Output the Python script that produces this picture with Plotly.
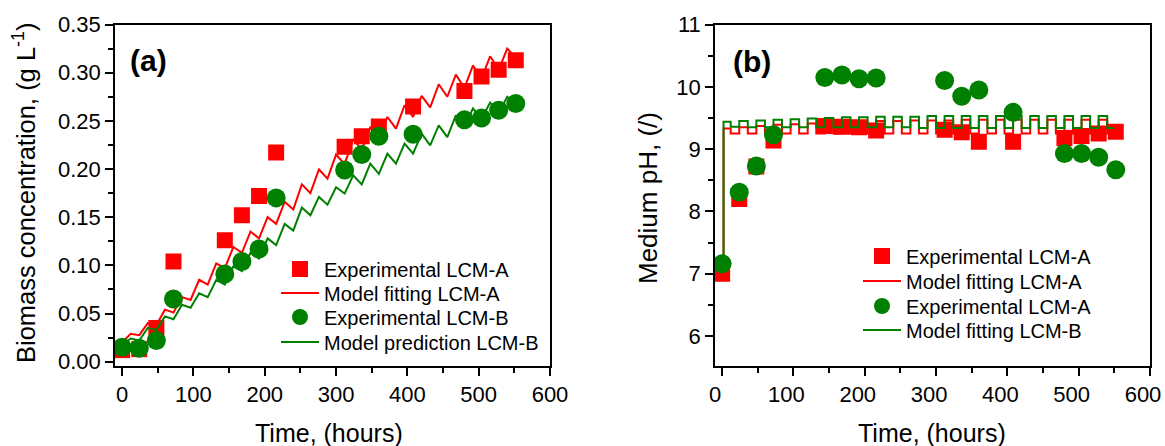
import plotly.graph_objects as go

# ---------------- data: panel (a) biomass ----------------
t_exp = [0, 24, 48, 72, 144, 168, 192, 216, 312, 336, 360, 408, 480, 504, 528, 552]
bio_A = [0.012, 0.013, 0.035, 0.104, 0.126, 0.152, 0.172, 0.217, 0.223, 0.234, 0.244,
         0.265, 0.281, 0.296, 0.303, 0.313]
bio_B = [0.015, 0.014, 0.022, 0.065, 0.091, 0.104, 0.117, 0.170, 0.199, 0.215, 0.234,
         0.236, 0.251, 0.253, 0.261, 0.268]

t_model_A = [0, 12, 24, 36, 48, 60, 72, 84, 96, 108, 120, 132, 144, 156, 168, 180, 192,
             204, 216, 228, 240, 252, 264, 276, 288, 300, 312, 324, 336, 348, 360, 372,
             384, 396, 408, 420, 432, 444, 456, 468, 480, 492, 504, 516, 528, 540, 550]
bio_model_A = [0.020, 0.029, 0.0275, 0.040, 0.038, 0.054, 0.051, 0.067, 0.064, 0.085,
               0.080, 0.102, 0.097, 0.119, 0.113, 0.135, 0.128, 0.150, 0.143, 0.166,
               0.158, 0.184, 0.175, 0.1995, 0.190, 0.215, 0.205, 0.231, 0.220, 0.243,
               0.232, 0.254, 0.242, 0.266, 0.254, 0.276, 0.264, 0.288, 0.275, 0.298,
               0.284, 0.3075, 0.294, 0.317, 0.303, 0.325, 0.317]
t_model_B = [0, 12, 24, 36, 48, 60, 72, 84, 96, 108, 120, 132, 144, 156, 168, 180, 192,
             204, 216, 228, 240, 252, 264, 276, 288, 300, 312, 324, 336, 348, 360, 372,
             384, 396, 408, 420, 432, 444, 456, 468, 480, 492, 504, 516, 528, 540, 548]
bio_model_B = [0.017, 0.024, 0.022, 0.035, 0.033, 0.047, 0.044, 0.059, 0.056, 0.071,
               0.067, 0.085, 0.080, 0.099, 0.094, 0.113, 0.107, 0.128, 0.121, 0.143,
               0.136, 0.160, 0.152, 0.171, 0.163, 0.181, 0.1745, 0.1935, 0.184, 0.2056,
               0.195, 0.216, 0.2056, 0.2264, 0.216, 0.2367, 0.2246, 0.2453, 0.233, 0.2557,
               0.244, 0.263, 0.252, 0.269, 0.258, 0.275, 0.270]

# ---------------- data: panel (b) pH ----------------
ph_A = [7.00, 8.20, 8.72, 9.14, 9.37, 9.36, 9.35, 9.30, 9.31, 9.27, 9.12, 9.12,
        9.18, 9.21, 9.25, 9.28]
ph_B = [7.16, 8.31, 8.73, 9.23, 10.15, 10.19, 10.13, 10.14, 10.10, 9.85, 9.95, 9.59,
        8.93, 8.93, 8.87, 8.67]

t_ph_model = [0, 2, 12, 24, 36, 48, 60, 72, 84, 96, 108, 120, 132, 144, 156, 168, 180,
              192, 204, 216, 228, 240, 252, 264, 276, 288, 300, 312, 324, 336, 348, 360,
              372, 384, 396, 408, 420, 432, 444, 456, 468, 480, 492, 504, 516, 528, 540, 550]
ph_model_A = [7.00, 9.33, 9.25, 9.35, 9.25, 9.37, 9.25, 9.39, 9.25, 9.40, 9.25, 9.41,
              9.25, 9.42, 9.25, 9.43, 9.25, 9.44, 9.25, 9.45, 9.25, 9.45, 9.25, 9.46,
              9.25, 9.46, 9.25, 9.46, 9.25, 9.47, 9.25, 9.47, 9.25, 9.47, 9.25, 9.47,
              9.25, 9.47, 9.25, 9.47, 9.25, 9.47, 9.25, 9.47, 9.25, 9.47, 9.25, 9.25]
ph_model_B = [7.16, 9.44, 9.36, 9.45, 9.35, 9.46, 9.35, 9.47, 9.35, 9.48, 9.35, 9.49,
              9.35, 9.50, 9.35, 9.51, 9.35, 9.51, 9.35, 9.52, 9.35, 9.52, 9.35, 9.52,
              9.34, 9.53, 9.34, 9.53, 9.34, 9.53, 9.34, 9.53, 9.34, 9.53, 9.34, 9.53,
              9.34, 9.53, 9.34, 9.53, 9.34, 9.53, 9.34, 9.53, 9.34, 9.53, 9.34, 9.34]

x_ticks = [0, 100, 200, 300, 400, 500, 600]

RED = "#FF0000"
GREEN = "#008000"
FONT = "Liberation Sans, Arial, sans-serif"

fig = go.Figure()

# panel (a)
fig.add_trace(go.Scatter(x=t_exp, y=bio_A, mode="markers", name="Experimental LCM-A",
                         marker=dict(symbol="square", size=16, color=RED),
                         xaxis="x", yaxis="y", legend="legend"))
fig.add_trace(go.Scatter(x=t_model_A, y=bio_model_A, mode="lines", name="Model fitting LCM-A",
                         line=dict(color=RED, width=2), xaxis="x", yaxis="y", legend="legend2"))
fig.add_trace(go.Scatter(x=t_exp, y=bio_B, mode="markers", name="Experimental LCM-B",
                         marker=dict(symbol="circle", size=19, color=GREEN),
                         xaxis="x", yaxis="y", legend="legend3"))
fig.add_trace(go.Scatter(x=t_model_B, y=bio_model_B, mode="lines", name="Model prediction LCM-B",
                         line=dict(color=GREEN, width=2), xaxis="x", yaxis="y", legend="legend4"))

# panel (b)
fig.add_trace(go.Scatter(x=t_exp, y=ph_A, mode="markers", name="Experimental LCM-A",
                         marker=dict(symbol="square", size=16, color=RED),
                         xaxis="x2", yaxis="y2", legend="legend5"))
fig.add_trace(go.Scatter(x=t_ph_model, y=ph_model_A, mode="lines", name="Model fitting LCM-A",
                         line=dict(color=RED, width=2, shape="hv"),
                         xaxis="x2", yaxis="y2", legend="legend6"))
fig.add_trace(go.Scatter(x=t_exp, y=ph_B, mode="markers", name="Experimental LCM-A",
                         marker=dict(symbol="circle", size=19, color=GREEN),
                         xaxis="x2", yaxis="y2", legend="legend7"))
fig.add_trace(go.Scatter(x=t_ph_model, y=ph_model_B, mode="lines", name="Model fitting LCM-B",
                         line=dict(color=GREEN, width=2, shape="hv"),
                         xaxis="x2", yaxis="y2", legend="legend8"))

W, H = 1165, 446
ydom = [(H - 366) / H, (H - 24.5) / H]

common_axis = dict(showline=True, linecolor="black", linewidth=1.5, mirror=True,
                   showgrid=False, zeroline=False, ticks="outside", ticklen=8,
                   tickwidth=1.5, tickcolor="black", automargin=False,
                   tickfont=dict(family=FONT, size=22, color="black"))
minor_style = dict(ticks="outside", ticklen=5, tickwidth=1.5, tickcolor="black")


def legend_at(x_px, y_px):
    return dict(x=x_px / W, y=(H - y_px) / H, xanchor="left", yanchor="middle",
                bgcolor="rgba(0,0,0,0)", borderwidth=0, itemwidth=38,
                font=dict(family=FONT, size=20, color="black"))


# legend rows (a) and (b): centre y of each row, left x of the legend box
rows_a = [269, 293, 317, 342]
rows_b = [256, 281, 306, 330]
leg_x_a = 276
leg_x_b = 858

layout_legends = {}
for i, yy in enumerate(rows_a):
    key = "legend" if i == 0 else f"legend{i + 1}"
    layout_legends[key] = legend_at(leg_x_a, yy)
for i, yy in enumerate(rows_b):
    layout_legends[f"legend{i + 5}"] = legend_at(leg_x_b, yy)


def label(text, x_px, y_px, size, angle=0):
    return dict(text=text, x=x_px / W, y=(H - y_px) / H, xref="paper", yref="paper",
                xanchor="center", yanchor="middle", showarrow=False, textangle=angle,
                font=dict(family=FONT, size=size, color="black"))


fig.update_layout(
    width=W, height=H, margin=dict(l=0, r=0, t=0, b=0, autoexpand=False),
    paper_bgcolor="white", plot_bgcolor="white", showlegend=True,
    font=dict(family=FONT, color="black"),
    xaxis=dict(domain=[115 / W, 550 / W], range=[-10, 600], tickvals=x_ticks,
               minor=dict(dtick=50, tick0=0, **minor_style),
               anchor="y", **common_axis),
    yaxis=dict(domain=ydom, range=[-0.0045, 0.35], dtick=0.05, tick0=0, tickformat=".2f",
               minor=dict(dtick=0.025, tick0=0, **minor_style),
               anchor="x", **common_axis),
    xaxis2=dict(domain=[715 / W, 1150 / W], range=[-10, 600], tickvals=x_ticks,
                ticklabelshift=-7,
                minor=dict(dtick=50, tick0=0, **minor_style),
                anchor="y2", **common_axis),
    yaxis2=dict(domain=ydom, range=[5.52, 11], dtick=1, tick0=6,
                minor=dict(dtick=0.5, tick0=0, **minor_style),
                anchor="x2", **common_axis),
    annotations=[
        label("<b>(a)</b>", 149, 61, 30),
        label("<b>(b)</b>", 752, 62, 30),
        label("Time, (hours)", 329, 433, 25),
        label("Time, (hours)", 932, 433, 25),
        label("Biomass concentration, (g L<sup>-1</sup>)", 24, 193, 25.5, -90),
        label("Medium pH, (/)", 648, 198, 26, -90),
    ],
    **layout_legends,
)

fig.write_html("out.html", config={"displayModeBar": False},
               post_script="document.body.style.margin='0px';")
